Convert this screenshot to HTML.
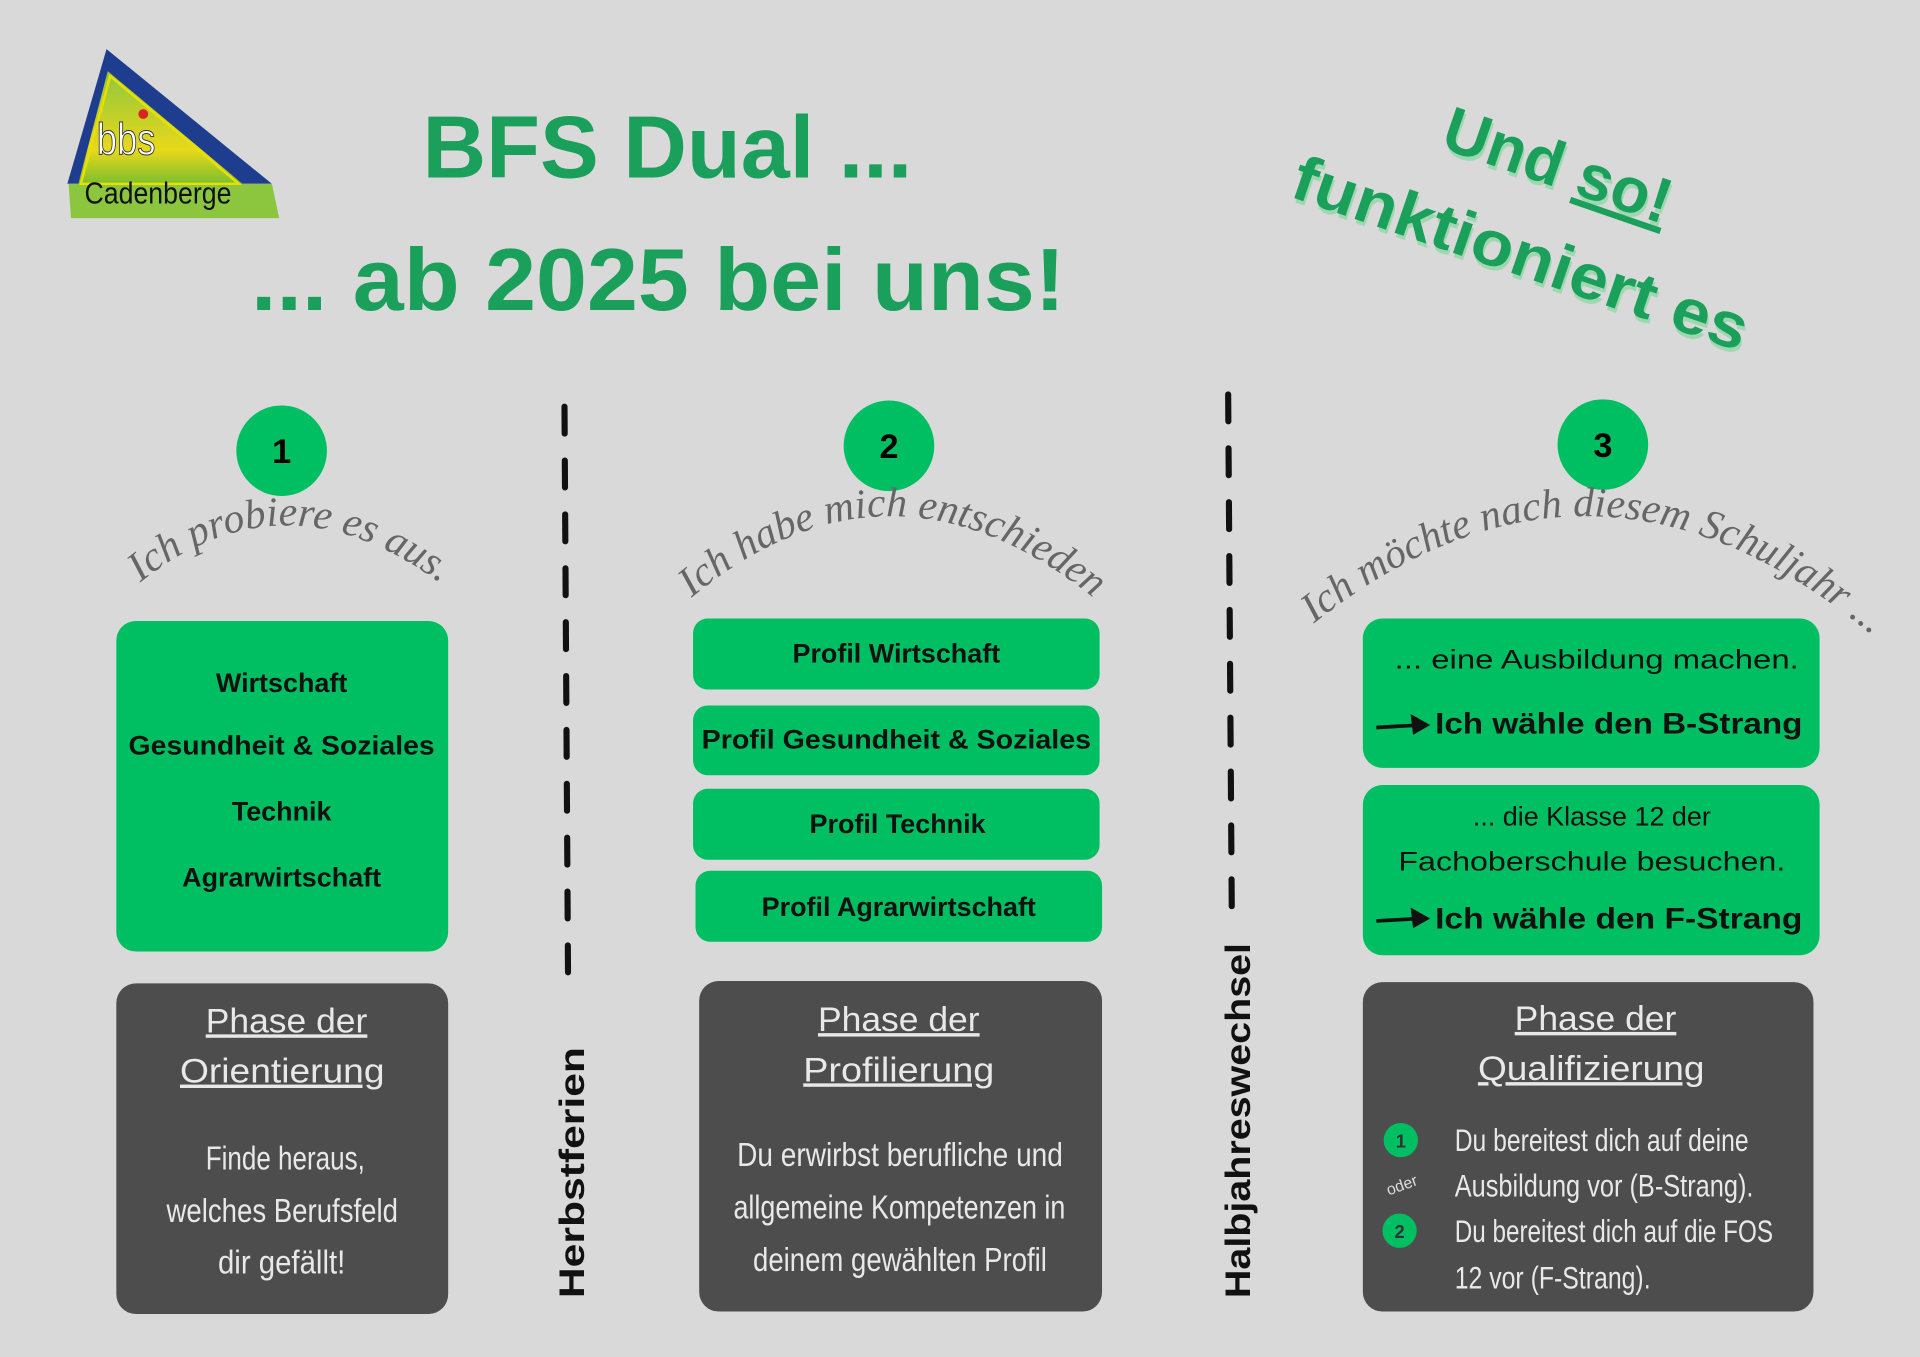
<!DOCTYPE html>
<html><head><meta charset="utf-8"><style>
html,body{margin:0;padding:0;background:#d9d9d9;}
svg{display:block;}
.t{font-family:"Liberation Sans",sans-serif;}
.n{font-family:"Liberation Sans",sans-serif;}
</style></head><body>
<svg width="1920" height="1357" viewBox="0 0 1568 1108" xmlns="http://www.w3.org/2000/svg">
<rect width="1568" height="1108" fill="#d9d9d9"/>
<defs>
<linearGradient id="lg" x1="0" y1="0" x2="0" y2="1"><stop offset="0" stop-color="#8fc63e"/><stop offset="0.7" stop-color="#e8d81a"/><stop offset="1" stop-color="#7cbf2e"/></linearGradient>
<path id="a1" d="M100,488 Q230,370 375,488"/>
<path id="a2" d="M553,498 Q726,345 905,498"/>
<path id="a3" d="M1062,518 Q1300,320 1540,528"/>
</defs>
<!-- logo -->
<polygon points="87,40 222,150 55,150" fill="#1f3d8f"/>
<polygon points="88,58 198,150 64,150" fill="url(#lg)"/>
<polygon points="56,150 222,150 228,178 58,178" fill="#8cc63f"/>
<polygon points="90,62 195,150 66,150" fill="none" stroke="#e8e000" stroke-width="2"/>
<text x="79" y="126" class="n" font-size="36" fill="#fff" stroke="#333" stroke-width="0.8" textLength="48" lengthAdjust="spacingAndGlyphs">bbs</text>
<circle cx="117" cy="93" r="4" fill="#d22"/>
<text x="69" y="166" class="n" font-size="25" fill="#111" textLength="120" lengthAdjust="spacingAndGlyphs">Cadenberge</text>
<!-- titles -->
<g class="t" font-weight="900" fill="#1aa05a">
<text x="345" y="145" font-size="72" textLength="400" lengthAdjust="spacingAndGlyphs">BFS Dual ...</text>
<text x="205" y="253" font-size="72" textLength="665" lengthAdjust="spacingAndGlyphs">... ab 2025 bei uns!</text>
</g>
<g class="t" font-weight="900" fill="#1aa05a">
<g transform="translate(1175 120) rotate(19)">
<text x="2" y="3" font-size="52" fill="#9fd7b0">Und so!</text>
<text x="0" y="0" font-size="52">Und <tspan text-decoration="underline">so!</tspan></text>
</g>
<g transform="translate(1052 160) rotate(19)">
<text x="2" y="3" font-size="52" fill="#9fd7b0" textLength="390" lengthAdjust="spacingAndGlyphs">funktioniert es</text>
<text x="0" y="0" font-size="52" textLength="390" lengthAdjust="spacingAndGlyphs">funktioniert es</text>
</g>
</g>
<!-- circles -->
<g class="t" font-weight="bold" font-size="28" text-anchor="middle">
<circle cx="230" cy="368" r="37" fill="#00bf63"/><text x="230" y="378">1</text>
<circle cx="726" cy="364" r="37" fill="#00bf63"/><text x="726" y="374">2</text>
<circle cx="1309" cy="363" r="37" fill="#00bf63"/><text x="1309" y="373">3</text>
</g>
<!-- arched script -->
<g font-family="'Liberation Serif',serif" font-style="italic" font-size="34" fill="#666">
<text><textPath href="#a1" startOffset="50%" text-anchor="middle">Ich probiere es aus.</textPath></text>
<text><textPath href="#a2" startOffset="50%" text-anchor="middle">Ich habe mich entschieden</textPath></text>
<text><textPath href="#a3" startOffset="50%" text-anchor="middle">Ich möchte nach diesem Schuljahr ...</textPath></text>
</g>
<!-- green boxes -->
<g fill="#00bf63">
<rect x="95" y="507" width="271" height="270" rx="16"/>
<rect x="566" y="505" width="332" height="58" rx="12"/>
<rect x="566" y="576" width="332" height="57" rx="12"/>
<rect x="566" y="644" width="332" height="58" rx="12"/>
<rect x="568" y="711" width="332" height="58" rx="12"/>
<rect x="1113" y="505" width="373" height="122" rx="16"/>
<rect x="1113" y="641" width="373" height="139" rx="16"/>
</g>
<g class="t" font-weight="bold" font-size="22" fill="#111" text-anchor="middle">
<text x="230" y="565">Wirtschaft</text>
<text x="230" y="616" textLength="250" lengthAdjust="spacingAndGlyphs">Gesundheit &amp; Soziales</text>
<text x="230" y="670">Technik</text>
<text x="230" y="724">Agrarwirtschaft</text>
<text x="732" y="541">Profil Wirtschaft</text>
<text x="732" y="611" textLength="318" lengthAdjust="spacingAndGlyphs">Profil Gesundheit &amp; Soziales</text>
<text x="733" y="680">Profil Technik</text>
<text x="734" y="748">Profil Agrarwirtschaft</text>
<text x="1304" y="546" font-weight="normal" textLength="330" lengthAdjust="spacingAndGlyphs">... eine Ausbildung machen.</text>
<text x="1300" y="674" font-weight="normal">... die Klasse 12 der</text>
<text x="1300" y="711" font-weight="normal" textLength="316" lengthAdjust="spacingAndGlyphs">Fachoberschule besuchen.</text>
</g>
<g class="t" font-weight="900" font-size="24" fill="#111">
<text x="1172" y="599" textLength="300" lengthAdjust="spacingAndGlyphs">Ich wähle den B-Strang</text>
<text x="1172" y="758" textLength="300" lengthAdjust="spacingAndGlyphs">Ich wähle den F-Strang</text>
</g>
<g stroke="#111" stroke-width="3" fill="#111">
<line x1="1124" y1="594" x2="1160" y2="592"/><polygon points="1168,592 1152,583 1154,600" stroke="none"/>
<line x1="1124" y1="752" x2="1160" y2="750"/><polygon points="1168,750 1152,741 1154,758" stroke="none"/>
</g>
<!-- gray boxes -->
<g fill="#4d4d4d">
<rect x="95" y="803" width="271" height="270" rx="16"/>
<rect x="571" y="801" width="329" height="270" rx="16"/>
<rect x="1113" y="802" width="368" height="269" rx="16"/>
</g>
<g class="n" fill="#e8e8e8" font-size="28" text-decoration="underline" lengthAdjust="spacingAndGlyphs">
<text x="168" y="843" textLength="132" lengthAdjust="spacingAndGlyphs">Phase der</text>
<text x="147" y="884" textLength="167" lengthAdjust="spacingAndGlyphs">Orientierung</text>
<text x="668" y="842" textLength="132" lengthAdjust="spacingAndGlyphs">Phase der</text>
<text x="656" y="883" textLength="156" lengthAdjust="spacingAndGlyphs">Profilierung</text>
<text x="1237" y="841" textLength="132" lengthAdjust="spacingAndGlyphs">Phase der</text>
<text x="1207" y="882" textLength="185" lengthAdjust="spacingAndGlyphs">Qualifizierung</text>
</g>
<g class="n" fill="#e8e8e8" font-size="27">
<text x="168" y="955" textLength="130" lengthAdjust="spacingAndGlyphs">Finde heraus,</text>
<text x="136" y="998" textLength="189" lengthAdjust="spacingAndGlyphs">welches Berufsfeld</text>
<text x="178" y="1040" textLength="104" lengthAdjust="spacingAndGlyphs">dir gefällt!</text>
<text x="602" y="952" textLength="266" lengthAdjust="spacingAndGlyphs">Du erwirbst berufliche und</text>
<text x="599" y="995" textLength="271" lengthAdjust="spacingAndGlyphs">allgemeine Kompetenzen in</text>
<text x="615" y="1038" textLength="240" lengthAdjust="spacingAndGlyphs">deinem gewählten Profil</text>
</g>
<g class="n" fill="#e8e8e8" font-size="26">
<text x="1188" y="940" textLength="240" lengthAdjust="spacingAndGlyphs">Du bereitest dich auf deine</text>
<text x="1188" y="977" textLength="244" lengthAdjust="spacingAndGlyphs">Ausbildung vor (B-Strang).</text>
<text x="1188" y="1014" textLength="260" lengthAdjust="spacingAndGlyphs">Du bereitest dich auf die FOS</text>
<text x="1188" y="1052" textLength="160" lengthAdjust="spacingAndGlyphs">12 vor (F-Strang).</text>
</g>
<circle cx="1144" cy="931" r="14" fill="#00bf63"/><text x="1144" y="937" class="t" font-size="15" font-weight="bold" fill="#333" text-anchor="middle">1</text>
<circle cx="1143" cy="1005" r="14" fill="#00bf63"/><text x="1143" y="1011" class="t" font-size="15" font-weight="bold" fill="#333" text-anchor="middle">2</text>
<text x="1145" y="972" class="n" font-size="13" fill="#ddd" text-anchor="middle" transform="rotate(-20 1145 968)">oder</text>
<!-- dashed lines -->
<line x1="461" y1="332" x2="464" y2="815" stroke="#111" stroke-width="5" stroke-linecap="round" stroke-dasharray="22 22"/>
<line x1="1003" y1="322" x2="1006" y2="750" stroke="#111" stroke-width="5" stroke-linecap="round" stroke-dasharray="22 22"/>
<g class="t" font-weight="900" font-size="29" fill="#111">
<text transform="translate(477 1060) rotate(-90)" textLength="205" lengthAdjust="spacingAndGlyphs">Herbstferien</text>
<text transform="translate(1021 1060) rotate(-90)" textLength="290" lengthAdjust="spacingAndGlyphs">Halbjahreswechsel</text>
</g>
</svg>
</body></html>
